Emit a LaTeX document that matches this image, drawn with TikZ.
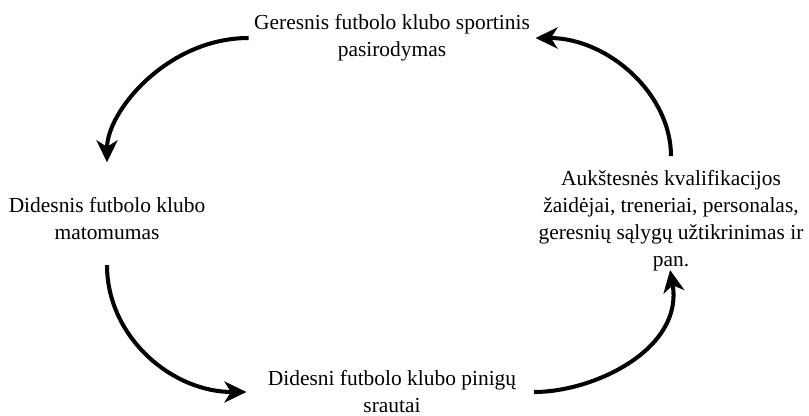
\documentclass[tikz,border=0pt]{standalone}
\usepackage{fontspec}
\setmainfont{Liberation Serif}
\usetikzlibrary{arrows.meta}

\begin{document}
\begin{tikzpicture}[x=0.02cm, y=-0.02cm,
		txt/.style={align=center, inner sep=2pt, font=\fontsize{12.2}{15.4}\selectfont},
		flow/.style={line width=2.3pt, -{Stealth[length=0.44cm, width=0.42cm, inset=0.13cm]}}]
				\useasboundingbox (0,0) rectangle (809,416);
				\node[txt] (sport) at (392,38) {Geresnis futbolo klubo sportinis\\pasirodymas};
				\node[txt] (matom) at (107,219) {Didesnis futbolo klubo\\matomumas};
				\node[txt] (pinig) at (392,392) {Didesni futbolo klubo pinigų\\srautai};
				\node[txt] (kval) at (671,221) {Aukštesnės kvalifikacijos\\žaidėjai, treneriai, personalas,\\geresnių sąlygų užtikrinimas ir\\pan.};
				\draw[flow, shorten <=1pt, shorten >=18pt] (sport.west) to[out=180, in=90] (matom.north);
				\draw[flow, shorten <=12pt, shorten >=10pt] (matom.south) to[out=-90, in=180, looseness=1.1] (pinig.west);
				\draw[flow, shorten <=8pt, shorten >=-3pt] (pinig.east) to[out=0, in=-80] (kval.south);
				\draw[flow, shorten <=6pt, shorten >=1pt] (kval.north) to[out=90, in=0] (sport.east);
				\end{tikzpicture}
\end{document}
